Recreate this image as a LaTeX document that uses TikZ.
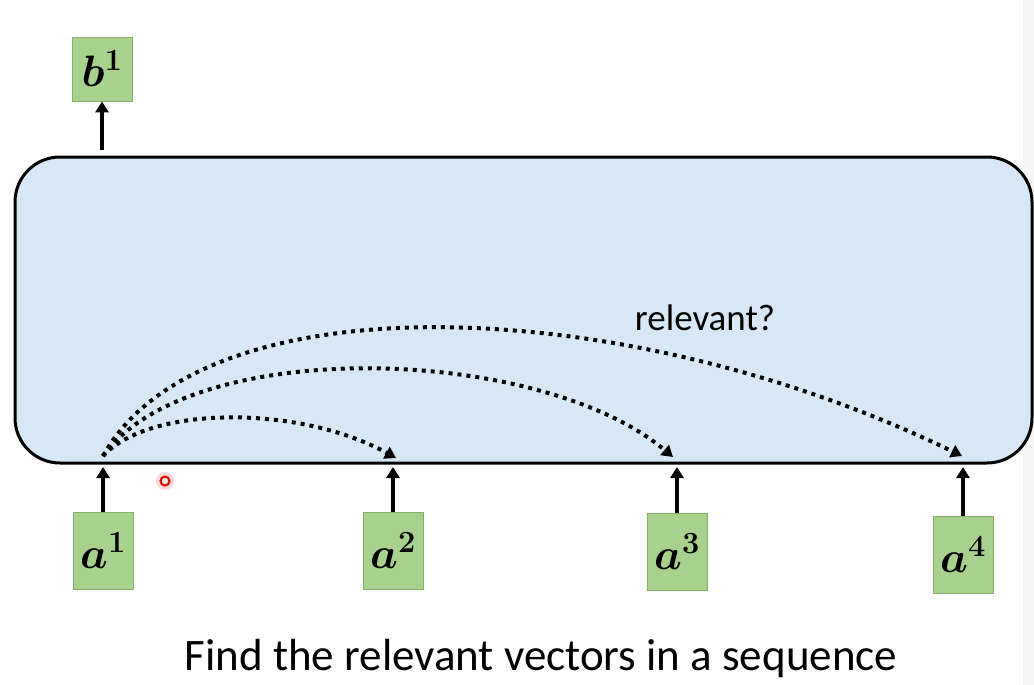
\RequirePackage{fix-cm}
\documentclass[tikz,border=0pt]{standalone}
\usepackage{fontspec}
\usepackage{amsmath,bm}
\setmainfont{Carlito}
\usetikzlibrary{arrows.meta}
\definecolor{panelblue}{RGB}{216,231,245}
\definecolor{boxgreen}{RGB}{169,209,142}
\definecolor{boxedge}{RGB}{130,175,105}
\tikzset{
  vecbox/.style={draw=boxedge, line width=0.8pt, fill=boxgreen, minimum width=60pt, inner sep=0pt, font=\fontsize{44}{48}\selectfont},
  inarrow/.style={line width=3.2pt, -{Triangle[length=11pt,width=13pt]}},
  relarrow/.style={line width=4pt, dash pattern=on 4pt off 5pt, -{Triangle[length=11pt,width=13pt]}},
}
\begin{document}
\begin{tikzpicture}[x=1pt,y=-1pt]
\useasboundingbox (0,0) rectangle (1034,685);
\fill[white] (0,0) rectangle (1034,685);
\fill[gray!8] (1023,0) rectangle (1034,685);
% panel
\node[draw, line width=3pt, fill=panelblue, rounded corners=45pt, minimum width=1017pt, minimum height=306pt, inner sep=0pt] (panel) at (523.5,310) {};
% boxes
\node[vecbox, minimum height=64pt] (b1) at (102,69) {$\bm{b}^{\bm{1}}$};
\node[vecbox, minimum height=77pt] (a1) at (103,551) {$\bm{a}^{\bm{1}}$};
\node[vecbox, minimum height=77pt] (a2) at (393,551) {$\bm{a}^{\bm{2}}$};
\node[vecbox, minimum height=77pt] (a3) at (677,552) {$\bm{a}^{\bm{3}}$};
\node[vecbox, minimum height=77pt] (a4) at (963,555) {$\bm{a}^{\bm{4}}$};
% points on the panel bottom
\coordinate (p1) at (103,467);
\coordinate (p2) at (393,467);
\coordinate (p3) at (677,467);
\coordinate (p4) at (963,467);
\coordinate (q1) at (103,456);
\coordinate (q2) at (396,458);
\coordinate (q3) at (673,457);
\coordinate (q4) at (962,456);
\coordinate (top) at (102,150);
% input arrows
\draw[inarrow] (a1.north) -- (p1);
\draw[inarrow] (a2.north) -- (p2);
\draw[inarrow] (a3.north) -- (p3);
\draw[inarrow] (a4.north) -- (p4);
\draw[inarrow] (top) -- (b1.south);
% relevance arcs
\draw[relarrow] (q1) .. controls (150,405) and (300,405) .. (q2);
\draw[relarrow] (q1) .. controls (190,335) and (540,345) .. (q3);
\draw[relarrow] (q1) .. controls (200,280) and (620,290) .. (q4);
\node[font=\fontsize{37}{42}\selectfont, inner sep=0pt] (rel) at (705,318) {relevant?};
% caption
\node[font=\fontsize{45}{50}\selectfont, inner sep=0pt] (cap) at (541,658) {Find the relevant vectors in a sequence};
% laser pointer dot
\node[circle, fill=red!15, minimum size=18pt, inner sep=0pt] (glow) at (165,481) {};
\node[circle, draw=red!85!black, line width=2pt, fill=red!10, minimum size=9pt, inner sep=0pt] (dot) at (165,481) {};
\end{tikzpicture}
\end{document}
